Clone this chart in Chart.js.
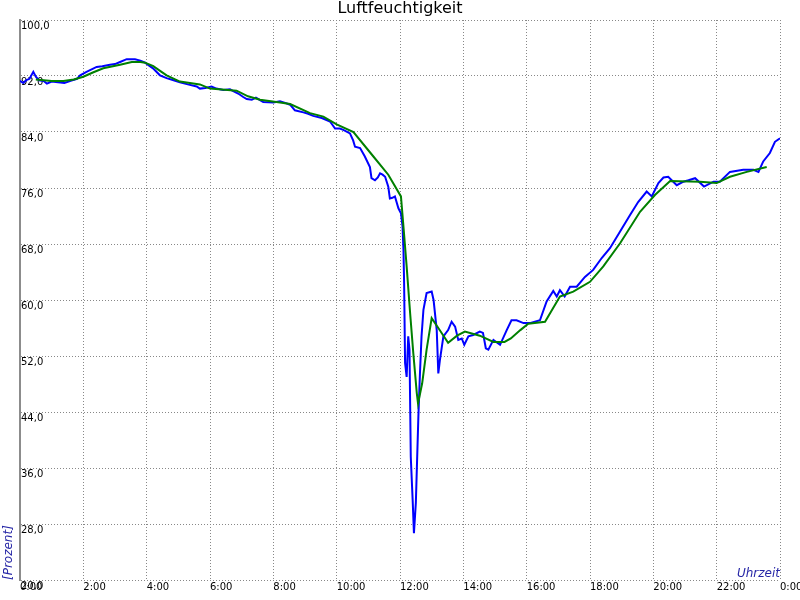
<!DOCTYPE html>
<html>
<head>
<meta charset="utf-8">
<script src="https://cdn.jsdelivr.net/npm/chart.js@4/dist/chart.umd.min.js"></script>
<style>
html,body{margin:0;padding:0;background:#fff;}
canvas{display:block;}
</style>
</head>
<body>
<canvas id="c" width="800" height="600"></canvas>
<script>
// Time of day in hours (x) and relative humidity in percent (y)
const blueTimes = [0.00,0.10,0.20,0.30,0.42,0.50,0.60,0.75,0.85,1.00,1.20,1.40,1.60,1.80,1.90,2.10,2.42,2.60,2.84,3.00,3.16,3.37,3.63,3.80,3.95,4.10,4.20,4.42,4.63,4.85,5.05,5.30,5.58,5.68,5.85,6.05,6.20,6.42,6.63,6.75,6.89,7.05,7.16,7.32,7.45,7.68,8.00,8.21,8.35,8.53,8.68,8.95,9.10,9.26,9.53,9.79,9.95,10.10,10.21,10.42,10.52,10.58,10.74,10.89,11.05,11.10,11.21,11.30,11.37,11.45,11.53,11.63,11.68,11.76,11.84,11.95,12.03,12.08,12.11,12.13,12.16,12.21,12.26,12.30,12.34,12.40,12.44,12.50,12.58,12.63,12.68,12.74,12.84,13.00,13.06,13.16,13.21,13.26,13.37,13.52,13.63,13.74,13.84,13.95,14.03,14.16,14.31,14.52,14.62,14.71,14.79,14.95,15.16,15.37,15.52,15.68,15.90,16.10,16.42,16.63,16.84,16.95,17.05,17.20,17.37,17.58,17.84,18.10,18.37,18.63,18.95,19.26,19.52,19.79,19.95,20.16,20.32,20.47,20.74,20.95,21.11,21.32,21.60,21.90,22.10,22.42,22.84,23.16,23.32,23.47,23.68,23.84,24.00];
const blueValues = [91.3,91.0,91.4,91.6,92.6,91.9,91.4,91.3,90.9,91.2,91.1,91.0,91.3,91.6,92.1,92.6,93.3,93.4,93.6,93.7,94.0,94.4,94.4,94.2,93.9,93.4,93.1,92.1,91.7,91.4,91.1,90.8,90.5,90.2,90.3,90.5,90.2,90.0,90.1,89.8,89.5,89.0,88.7,88.6,88.9,88.3,88.2,88.4,88.2,87.9,87.1,86.8,86.6,86.3,86.0,85.5,84.5,84.5,84.3,83.8,82.8,81.9,81.7,80.5,79.0,77.4,77.1,77.5,78.1,77.9,77.6,76.2,74.5,74.6,74.8,73.1,72.4,70.5,67.1,62.4,51.0,49.0,54.8,52.9,37.6,31.4,26.7,31.0,43.3,49.5,54.8,58.6,61.0,61.2,60.0,55.7,49.5,51.4,54.8,55.7,56.9,56.2,54.3,54.5,53.6,54.8,55.0,55.5,55.3,53.1,52.9,54.3,53.6,55.7,57.1,57.1,56.7,56.7,57.1,59.8,61.3,60.5,61.4,60.5,61.9,61.9,63.3,64.3,66.0,67.4,69.8,72.1,74.0,75.5,74.8,76.7,77.5,77.6,76.4,76.9,77.1,77.4,76.2,76.9,76.9,78.3,78.6,78.6,78.3,79.8,81.0,82.6,83.1];

const greenTimes = [0.50,1.00,1.37,1.70,2.00,2.30,2.63,3.16,3.53,3.80,3.95,4.21,4.40,4.63,5.05,5.68,6.00,6.84,7.20,7.58,8.21,8.53,9.16,9.58,10.00,10.53,11.16,11.63,12.03,12.10,12.21,12.32,12.42,12.53,12.57,12.70,12.84,13.00,13.21,13.52,13.80,14.05,14.52,14.95,15.30,15.50,15.80,16.05,16.58,17.05,17.47,18.00,18.42,18.95,19.58,20.05,20.53,21.47,22.00,22.42,22.95,23.58];
const greenValues = [91.5,91.3,91.3,91.5,91.9,92.5,93.1,93.6,94.0,94.0,93.9,93.4,92.8,92.1,91.2,90.8,90.2,89.9,89.1,88.6,88.2,88.0,86.7,86.2,85.1,84.0,80.5,77.9,74.8,71.0,64.8,58.1,52.4,46.7,45.2,48.1,52.9,57.4,56.0,53.9,54.9,55.5,54.9,54.0,54.0,54.5,55.7,56.6,56.9,60.5,61.2,62.6,64.8,68.1,72.6,75.0,77.0,76.9,76.7,77.6,78.3,79.0];

const xTickLabels = ['0:00','2:00','4:00','6:00','8:00','10:00','12:00','14:00','16:00','18:00','20:00','22:00','0:00'];
const yTickLabels = ['20,0','28,0','36,0','44,0','52,0','60,0','68,0','76,0','84,0','92,0','100,0'];

const toPoints = (xs, ys) => xs.map((x, i) => ({x: x, y: ys[i]}));

const cornerText = {
  id: 'cornerText',
  afterDraw(chart) {
    const {ctx, chartArea} = chart;
    ctx.save();
    ctx.font = 'italic 12px "DejaVu Sans"';
    ctx.fillStyle = '#2626a6';
    ctx.textAlign = 'right';
    ctx.textBaseline = 'alphabetic';
    ctx.fillText('Uhrzeit', chartArea.right, chartArea.bottom - 3);
    ctx.restore();
  }
};

new Chart(document.getElementById('c'), {
  type: 'line',
  data: {
    datasets: [
      {
        data: toPoints(greenTimes, greenValues),
        borderColor: '#008000',
        borderWidth: 2,
        pointRadius: 0,
        tension: 0,
        fill: false,
        order: 0
      },
      {
        data: toPoints(blueTimes, blueValues),
        borderColor: '#0000ff',
        borderWidth: 2,
        pointRadius: 0,
        tension: 0,
        fill: false,
        order: 1
      }
    ]
  },
  options: {
    responsive: false,
    animation: false,
    devicePixelRatio: 1,
    layout: {padding: 0},
    plugins: {
      legend: {display: false},
      tooltip: {enabled: false},
      title: {
        display: true,
        text: 'Luftfeuchtigkeit',
        color: '#000',
        font: {family: '"DejaVu Sans"', size: 16, weight: 'normal', lineHeight: 1},
        padding: {top: 1, bottom: 3}
      }
    },
    scales: {
      x: {
        type: 'linear',
        min: 0,
        max: 24,
        grid: {color: '#888', lineWidth: 1, drawTicks: false},
        border: {display: false, dash: [1, 2]},
        ticks: {
          stepSize: 2,
          autoSkip: false,
          maxRotation: 0,
          align: 'start',
          padding: 1,
          color: '#000',
          font: {family: '"DejaVu Sans"', size: 10},
          callback: (v) => xTickLabels[Math.round(v / 2)]
        },
        afterFit(s) { s.height = 20; s.paddingLeft = 0; s.paddingRight = 20; }
      },
      y: {
        min: 20,
        max: 100,
        grid: {color: '#888', lineWidth: 1, drawTicks: false},
        border: {display: true, color: '#8c8c8c', width: 2, dash: [1, 2]},
        ticks: {
          stepSize: 8,
          mirror: true,
          padding: 1,
          labelOffset: 6,
          color: '#000',
          font: {family: '"DejaVu Sans"', size: 10},
          callback: (v) => yTickLabels[Math.round((v - 20) / 8)]
        },
        title: {
          display: true,
          text: '[Prozent]',
          align: 'start',
          color: '#2626a6',
          font: {family: '"DejaVu Sans"', size: 12, style: 'italic'},
          padding: {top: 2, bottom: 0}
        },
        afterFit(s) { s.width = 20; s.paddingTop = 0; s.paddingBottom = 0; }
      }
    }
  },
  plugins: [cornerText]
});
</script>
</body>
</html>
